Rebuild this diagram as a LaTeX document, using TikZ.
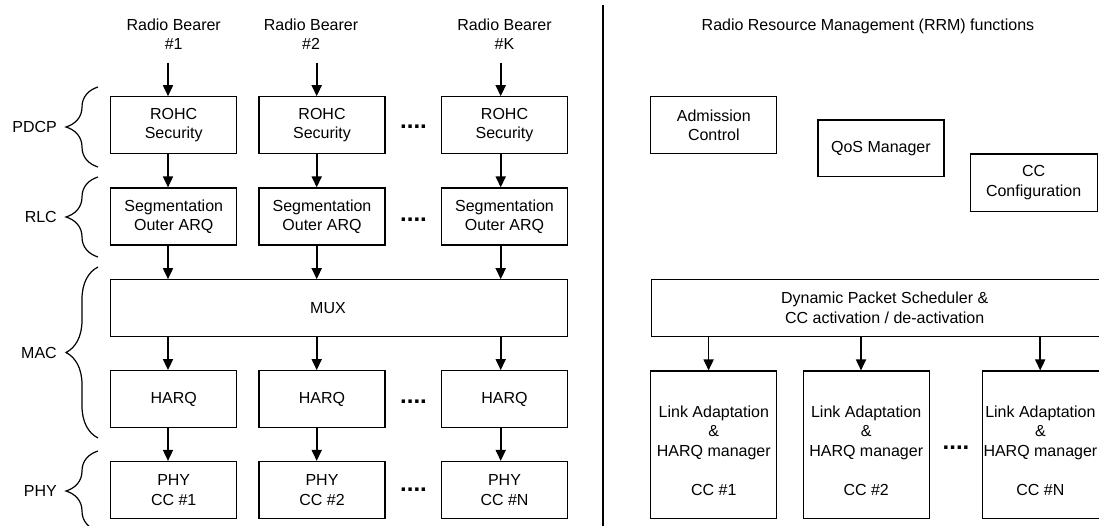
\documentclass[tikz,border=0pt]{standalone}
\usepackage{fontspec}
\setmainfont{Liberation Sans}
\usetikzlibrary{arrows.meta,decorations.pathreplacing}
\begin{document}
\begin{tikzpicture}[x=1pt,y=-1pt,
  every node/.style={font=\fontsize{16}{19.5}\selectfont, inner sep=0pt, align=center},
  blk/.style={draw, line width=1.2pt, minimum width=126pt, minimum height=57pt},
  arr/.style={line width=1.7pt, -{Triangle[width=10pt,length=11pt]}},
  dotsep/.style={font=\fontsize{24}{24}\selectfont\bfseries},
  lay/.style={anchor=east},
  brc/.style={decorate, decoration={brace, amplitude=32pt, aspect=0.5}, line width=1.2pt},
  sep/.style={line width=1.4pt}
]
\useasboundingbox (0,0) rectangle (1099,526);
\clip (0,0) rectangle (1099,526);

% ---------- left: protocol stack ----------
\node (rb1) at (173.7,34) {Radio Bearer\\\#1};
\node (rb2) at (311,34) {Radio Bearer\\\#2};
\node (rb3) at (504.5,34) {Radio Bearer\\\#K};
\coordinate (in1) at (168,62.7);
\coordinate (in2) at (316.7,62.7);
\coordinate (in3) at (500.7,62.7);

\node[blk] (rohc1) at (173.7,125.3) {ROHC\\Security};
\node[blk] (rohc2) at (322,125.3) {ROHC\\Security};
\node[blk] (rohc3) at (504.5,125.3) {ROHC\\Security};

\node[blk] (seg1) at (173.7,216.5) {Segmentation\\Outer ARQ};
\node[blk] (seg2) at (322,216.5) {Segmentation\\Outer ARQ};
\node[blk] (seg3) at (504.5,216.5) {Segmentation\\Outer ARQ};

\node[blk, minimum width=456.6pt, label={[xshift=-11pt]center:MUX}] (mux) at (339,308.3) {};

\node[blk] (harq1) at (173.7,399.2) {HARQ};
\node[blk] (harq2) at (322,399.2) {HARQ};
\node[blk] (harq3) at (504.5,399.2) {HARQ};

\node[blk] (phy1) at (173.7,490) {PHY\\CC \#1};
\node[blk] (phy2) at (322,490) {PHY\\CC \#2};
\node[blk] (phy3) at (504.5,490) {PHY\\CC \#N};

\node[dotsep] (dt1) at (413.5,126.7) {....};
\node[dotsep] (dt2) at (413.5,220) {....};
\node[dotsep] (dt3) at (413.5,401.7) {....};
\node[dotsep] (dt4) at (413.5,490) {....};

\foreach \i in {1,2,3}{
  \draw[arr] (in\i) -- (in\i |- rohc\i.north);
  \draw[arr] (in\i |- rohc\i.south) -- (in\i |- seg\i.north);
  \draw[arr] (in\i |- seg\i.south) -- (in\i |- mux.north);
  \draw[arr] (in\i |- mux.south) -- (in\i |- harq\i.north);
  \draw[arr] (in\i |- harq\i.south) -- (in\i |- phy\i.north);
}

\node[lay] (lpdcp) at (57,127) {PDCP};
\node[lay] (lrlc) at (57,217) {RLC};
\node[lay] (lmac) at (57,353) {MAC};
\node[lay] (lphy) at (57,491) {PHY};
\draw[brc] (98,167) -- (98,87);
\draw[brc] (98,257) -- (98,177);
\draw[brc] (98,438) -- (98,267);
\draw[brc] (98,531) -- (98,451);

% ---------- divider ----------
\draw[sep] (603,5) -- (603,530);

% ---------- right: RRM functions ----------
\node (rrm) at (868,26.5) {Radio Resource Management (RRM) functions};
\node[blk] (adm) at (713.8,125.3) {Admission\\Control};
\node[blk, minimum height=56.7pt] (qos) at (880.9,148.3) {QoS Manager};
\node[blk, minimum width=127pt, minimum height=57.7pt] (ccc) at (1033.6,182.8) {CC\\Configuration};

\node[blk, minimum width=466.5pt] (dps) at (884.7,308) {Dynamic Packet Scheduler \&\\CC activation / de-activation};

\node[blk, minimum height=147.3pt, label={[yshift=-6pt]center:{Link Adaptation\\\&\\HARQ manager\\[19.5pt]CC \#1}}] (lk1) at (713.8,444.7) {};
\node[blk, minimum height=147.3pt, label={[yshift=-6pt]center:{Link Adaptation\\\&\\HARQ manager\\[19.5pt]CC \#2}}] (lk2) at (866.2,444.7) {};
\node[blk, minimum height=147.3pt, label={[yshift=-6pt,xshift=-5pt]center:{Link Adaptation\\\&\\HARQ manager\\[19.5pt]CC \#N}}] (lk3) at (1045.4,444.7) {};
\node[dotsep] (dt5) at (956,448) {....};

\draw[arr] ([xshift=-5.2pt]lk1.north |- dps.south) -- ([xshift=-5.2pt]lk1.north);
\draw[arr] ([xshift=-5.2pt]lk2.north |- dps.south) -- ([xshift=-5.2pt]lk2.north);
\draw[arr] ([xshift=-5.2pt]lk3.north |- dps.south) -- ([xshift=-5.2pt]lk3.north);
\end{tikzpicture}
\end{document}
